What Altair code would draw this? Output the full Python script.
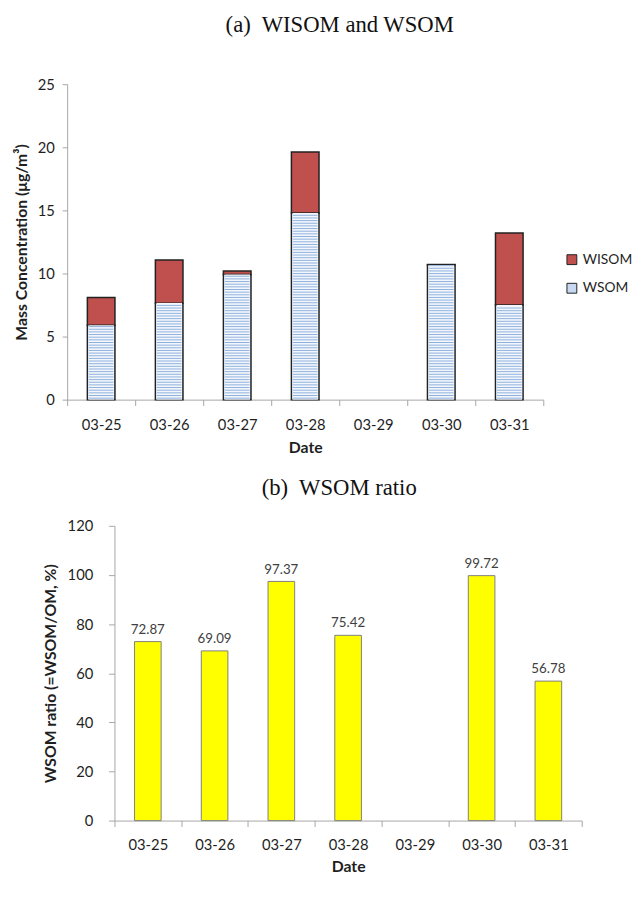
import altair as alt
import pandas as pd

# ---- data ----
all_dates = ["03-25", "03-26", "03-27", "03-28", "03-29", "03-30", "03-31"]
dates = ["03-25", "03-26", "03-27", "03-28", "03-30", "03-31"]
wsom = [5.90, 7.65, 9.92, 14.80, 10.68, 7.50]
wisom = [2.20, 3.42, 0.27, 4.83, 0.03, 5.71]
ratio = [72.87, 69.09, 97.37, 75.42, 99.72, 56.78]
series = ["WISOM", "WSOM"]
series_colors = ["#c0504d", "#c6d9f1"]
y1_ticks = [0, 5, 10, 15, 20, 25]
y2_ticks = [0, 20, 40, 60, 80, 100, 120]

rows = []
for d, s, i in zip(dates, wsom, wisom):
    rows.append({"Date": d, "Series": "WSOM", "Value": s, "ord": 0})
    rows.append({"Date": d, "Series": "WISOM", "Value": i, "ord": 1})
stack_df = pd.DataFrame(rows)
wsom_df = pd.DataFrame({"Date": dates, "WSOM": wsom})
ratio_df = pd.DataFrame({"Date": dates, "Ratio": ratio})

FONT = "Lato"
SERIF = "Liberation Serif"
AXC = "#a6a6a6"
LBL = "#1f1f1f"

TOP_W, TOP_H = 483, 320
SHIFT = 48            # bottom plot starts 48px right of the top plot
BOT_W, BOT_H = 474, 299

top_xscale = alt.Scale(domain=all_dates, paddingInner=0, paddingOuter=0)
top_yscale = alt.Scale(domain=[0, 25], nice=False)

x_top = alt.X(
    "Date:N",
    scale=top_xscale,
    axis=alt.Axis(
        title="Date", labelAngle=0, tickBand="extent", tickSize=6,
        labelPadding=12, titlePadding=8, labelFontSize=15, titleFontSize=16,
        labelFont=FONT, titleFont=FONT, titleFontWeight="bold",
        domainColor=AXC, tickColor=AXC, labelColor=LBL, titleColor=LBL,
    ),
)

y_top = alt.Y(
    "Value:Q",
    stack="zero",
    scale=top_yscale,
    axis=alt.Axis(
        title="Mass Concentration (μg/m³)", values=y1_ticks, grid=False,
        tickSize=5, labelPadding=8, titlePadding=8, labelFontSize=15,
        titleFontSize=16, labelFont=FONT, titleFont=FONT,
        titleFontWeight="bold", domainColor=AXC, tickColor=AXC,
        labelColor=LBL, titleColor=LBL,
    ),
)

bars_top = alt.Chart(stack_df).mark_bar(
    size=28, stroke="#222222", strokeWidth=1.5
).encode(
    x=x_top,
    y=y_top,
    color=alt.Color(
        "Series:N",
        scale=alt.Scale(domain=series, range=series_colors),
        legend=alt.Legend(
            title=None, orient="none", legendX=505, legendY=171,
            symbolType="square", symbolSize=100, symbolStrokeColor="#222222",
            symbolStrokeWidth=1, symbolOpacity=1, labelFont=FONT,
            labelFontSize=14, labelColor=LBL, rowPadding=15, labelOffset=4,
            padding=0,
        ),
    ),
    order=alt.Order("ord:Q"),
)

wsom_fill = alt.Chart(wsom_df).mark_bar(size=26, color="#f3f7fc").encode(
    x=alt.X("Date:N", scale=top_xscale),
    y=alt.Y("WSOM:Q", scale=top_yscale),
)

# horizontal hatch lines of the WSOM pattern
stripes = alt.Chart(wsom_df).transform_calculate(
    level="sequence(0.12, datum.WSOM - 0.05, 0.21)"
).transform_flatten(["level"]).mark_tick(
    orient="horizontal", size=25, thickness=1, color="#7da4d8", opacity=0.85
).encode(
    x=alt.X("Date:N", scale=top_xscale),
    y=alt.Y("level:Q", scale=top_yscale),
)

top = alt.layer(bars_top, wsom_fill, stripes).properties(
    width=TOP_W, height=TOP_H,
    title=alt.TitleParams(
        "(a)\u00a0 WISOM and WSOM", font=SERIF, fontSize=23, fontWeight="normal",
        color="#111111", anchor="middle", frame="group", dx=35, offset=41,
    ),
)

bot_xscale = alt.Scale(domain=all_dates, paddingInner=0, paddingOuter=0,
                       range=[SHIFT, SHIFT + BOT_W])
bot_yscale = alt.Scale(domain=[0, 120], nice=False)

x_bot = alt.X(
    "Date:N",
    scale=bot_xscale,
    axis=alt.Axis(
        title="Date", labelAngle=0, tickBand="extent", tickSize=6,
        labelPadding=11, titlePadding=7, labelFontSize=15, titleFontSize=16,
        labelFont=FONT, titleFont=FONT, titleFontWeight="bold",
        domainColor=AXC, tickColor=AXC, labelColor=LBL, titleColor=LBL,
    ),
)
y_bot = alt.Y(
    "Ratio:Q",
    scale=bot_yscale,
    axis=alt.Axis(
        title="WSOM ratio (=WSOM/OM, %)", values=y2_ticks, grid=False,
        tickSize=6, labelPadding=16, titlePadding=9, labelFontSize=15,
        titleFontSize=16, labelFont=FONT, titleFont=FONT,
        titleFontWeight="bold", domainColor=AXC, tickColor=AXC,
        labelColor=LBL, titleColor=LBL, offset=-SHIFT,
    ),
)

bars_bot = alt.Chart(ratio_df).mark_bar(
    size=27, color="#ffff00", stroke="#7f7f7f", strokeWidth=1
).encode(x=x_bot, y=y_bot)

labels_bot = alt.Chart(ratio_df).mark_text(
    baseline="bottom", dy=-5, font=FONT, fontSize=13.5, color="#404040"
).encode(
    x=alt.X("Date:N", scale=bot_xscale),
    y=alt.Y("Ratio:Q", scale=bot_yscale),
    text=alt.Text("Ratio:Q", format=".2f"),
)

bottom = alt.layer(bars_bot, labels_bot).properties(
    width=SHIFT + BOT_W, height=BOT_H,
    title=alt.TitleParams(
        "(b)\u00a0 WSOM ratio", font=SERIF, fontSize=23, fontWeight="normal",
        color="#111111", anchor="middle", frame="group", dx=15, offset=19,
    ),
)

chart = alt.vconcat(top, bottom, spacing=22).configure_view(
    stroke=None
).properties(
    background="white",
    padding={"left": 5, "top": 0, "right": 0, "bottom": 0},
)

chart.save("out.html", embed_options={"renderer": "svg", "actions": False})
